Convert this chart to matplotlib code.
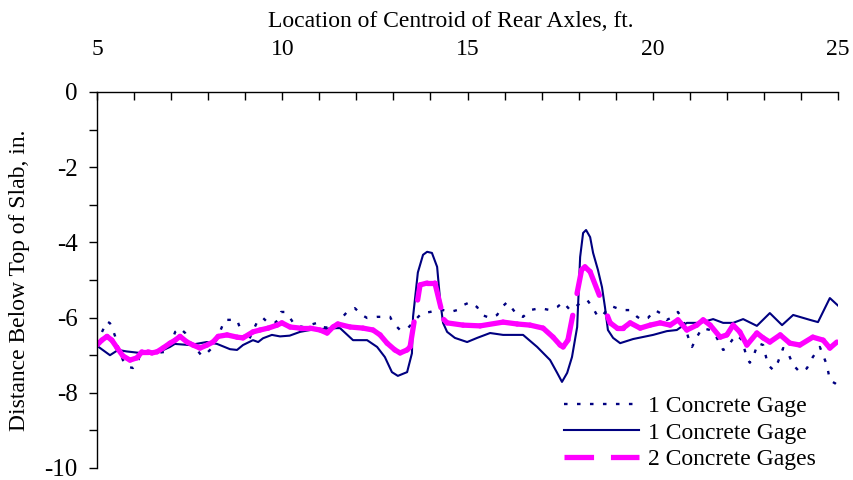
import matplotlib
matplotlib.use('Agg')
import matplotlib.pyplot as plt
from matplotlib.collections import LineCollection
from matplotlib.lines import Line2D
from matplotlib.ticker import MultipleLocator
import numpy as np

plt.rcParams['font.family'] = ['Liberation Serif', 'DejaVu Serif']
plt.rcParams['axes.unicode_minus'] = False

# 1 Concrete Gage (dotted)
x_dot = [5.0, 5.05, 5.16, 5.27, 5.35, 5.43, 5.49, 5.57, 5.7, 5.84, 5.97, 6.08, 6.16, 6.4, 6.62,
         6.92, 7.11, 7.24, 7.38, 7.51, 7.7, 7.83, 7.97, 8.13, 8.27, 8.37, 8.45, 8.78, 8.86, 8.94,
         9.08, 9.18, 9.35, 9.48, 9.62, 9.8, 9.89, 9.97, 10.07, 10.21, 10.34, 10.56, 10.94, 11.07,
         11.37, 11.5, 11.56, 11.75, 11.96, 12.15, 12.29, 12.56, 12.91, 12.99, 13.18, 13.39, 13.64,
         13.77, 13.99, 14.18, 14.34, 14.53, 14.72, 14.88, 15.07, 15.26, 15.39, 15.61, 15.8, 15.93,
         16.07, 16.2, 16.34, 16.5, 16.69, 16.96, 17.23, 17.42, 17.58, 17.77, 17.9, 18.04, 18.23,
         18.39, 18.52, 18.66, 18.79, 18.9, 19.17, 19.39, 19.58, 19.71, 19.87, 20.06, 20.2, 20.38,
         20.55, 20.68, 20.82, 20.95, 21.06, 21.19, 21.33, 21.55, 21.73, 21.9, 22.0, 22.14, 22.27,
         22.41, 22.54, 22.62, 22.71, 22.84, 22.98, 23.11, 23.25, 23.38, 23.52, 23.65, 23.79, 23.97,
         24.16, 24.32, 24.51, 24.7, 24.78, 24.92, 25.0]
y_dot = [-6.7, -6.55, -6.33, -6.1, -6.15, -6.33, -6.5, -6.8, -7.13, -7.31, -7.34, -7.25, -6.99, -6.95, -6.94,
         -6.9, -6.38, -6.28, -6.41, -6.65, -6.86, -7.02, -6.94, -6.78, -6.5, -6.25, -6.06, -6.06, -6.28, -6.5,
         -6.65, -6.41, -6.06, -6.01, -6.14, -6.14, -6.06, -5.85, -5.85, -6.01, -6.2, -6.25, -6.14, -6.25,
         -6.28, -6.17, -6.06, -5.85, -5.75, -5.93, -6.01, -5.98, -5.98, -6.14, -6.33, -6.28, -6.01,
         -5.88, -5.85, -5.8, -5.8, -5.85, -5.8, -5.67, -5.59, -5.72, -5.93, -6.01, -5.93, -5.72,
         -5.59, -5.75, -5.93, -5.98, -5.8, -5.75, -5.8, -5.72, -5.59, -5.8, -5.72, -5.62, -5.53,
         -5.75, -5.98, -5.93, -5.75, -5.7, -5.8, -5.8, -5.98, -6.06, -6.01, -5.8, -5.88, -6.06,
         -5.98, -5.85, -6.06, -6.5, -6.78, -6.52, -6.28, -6.33, -6.54, -6.86, -6.81, -6.6, -6.46,
         -6.6, -7.07, -7.2, -7.05, -6.68, -6.73, -7.26, -7.39, -7.18, -6.81, -6.94, -7.26, -7.45,
         -7.35, -7.05, -6.78, -7.26, -7.66, -7.75, -7.5]

# 1 Concrete Gage (solid)
x_sol = [5.0, 5.35, 5.57, 5.8, 6.16, 6.62, 6.97, 7.1, 7.5, 7.96, 8.24, 8.59, 8.78, 8.94, 9.21,
         9.35, 9.48, 9.72, 9.94, 10.2, 10.48, 10.75, 11.1, 11.48, 11.56, 11.91, 12.29, 12.56, 12.77,
         12.96, 13.12, 13.37, 13.5, 13.53, 13.66, 13.8, 13.91, 14.04, 14.18, 14.26, 14.34, 14.45,
         14.66, 14.99, 15.26, 15.61, 15.96, 16.5, 16.88, 17.23, 17.42, 17.55, 17.69, 17.82, 17.96,
         18.04, 18.12, 18.2, 18.31, 18.39, 18.52, 18.63, 18.71, 18.79, 18.93, 19.12, 19.47, 20.01,
         20.38, 20.65, 20.92, 21.28, 21.63, 21.9, 22.17, 22.44, 22.81, 23.16, 23.49, 23.79, 24.24,
         24.46, 24.78, 25.0]
y_sol = [-6.75, -7.0, -6.86, -6.9, -6.94, -6.94, -6.78, -6.7, -6.73, -6.65, -6.7, -6.84, -6.86, -6.73, -6.6,
         -6.65, -6.55, -6.46, -6.5, -6.48, -6.38, -6.33, -6.3, -6.28, -6.28, -6.6, -6.6, -6.78, -7.05,
         -7.45, -7.55, -7.45, -6.95, -5.98, -4.8, -4.33, -4.25, -4.28, -4.65, -5.53, -6.14, -6.38,
         -6.54, -6.65, -6.54, -6.41, -6.46, -6.46, -6.78, -7.13, -7.47, -7.71, -7.47, -7.05, -6.25,
         -4.39, -3.75, -3.67, -3.86, -4.28, -4.73, -5.19, -5.72, -6.33, -6.54, -6.68, -6.57, -6.46,
         -6.36, -6.33, -6.14, -6.14, -6.04, -6.14, -6.14, -6.04, -6.22, -5.88, -6.2, -5.93, -6.06,
         -6.12, -5.48, -5.68]

# 2 Concrete Gages (dashed)
x_two = [5.0, 5.13, 5.27, 5.4, 5.54, 5.7, 5.89, 6.08, 6.21, 6.38, 6.48, 6.62, 6.78, 6.97, 7.11,
         7.24, 7.43, 7.59, 7.78, 7.97, 8.13, 8.27, 8.51, 8.78, 8.94, 9.21, 9.4, 9.62, 9.86, 9.99,
         10.21, 10.48, 10.75, 11.02, 11.21, 11.37, 11.5, 11.83, 12.18, 12.45, 12.64, 12.83, 13.04,
         13.18, 13.37, 13.45, 13.72, 13.91, 14.12, 14.36, 14.45, 14.88, 15.34, 15.96, 16.34, 16.69,
         17.04, 17.31, 17.5, 17.58, 17.71, 18.08, 18.17, 18.31, 18.85, 19.04, 19.2, 19.39, 19.66,
         19.93, 20.2, 20.47, 20.68, 20.92, 21.19, 21.36, 21.55, 21.82, 22.0, 22.17, 22.35, 22.54,
         22.81, 22.98, 23.16, 23.44, 23.7, 23.97, 24.32, 24.6, 24.78, 24.97]
y_two = [-6.73, -6.6, -6.5, -6.6, -6.8, -7.02, -7.13, -7.07, -6.91, -6.91, -6.94, -6.91, -6.81, -6.68, -6.6,
         -6.5, -6.65, -6.73, -6.81, -6.73, -6.65, -6.5, -6.46, -6.52, -6.54, -6.38, -6.33, -6.28, -6.2, -6.14,
         -6.25, -6.28, -6.28, -6.33, -6.41, -6.25, -6.17, -6.25, -6.28, -6.33, -6.46, -6.68, -6.86,
         -6.94, -6.86, -6.78, -5.13, -5.08, -5.08, -6.05, -6.14, -6.2, -6.22, -6.12, -6.17, -6.2,
         -6.28, -6.52, -6.73, -6.78, -6.6, -4.73, -4.65, -4.78, -6.14, -6.28, -6.28, -6.14, -6.28,
         -6.2, -6.14, -6.2, -6.06, -6.33, -6.2, -6.06, -6.2, -6.52, -6.46, -6.2, -6.38, -6.73,
         -6.41, -6.54, -6.65, -6.46, -6.68, -6.73, -6.52, -6.6, -6.81, -6.65]

navy = '#000080'
magenta = '#FF00FF'
fs = 17

fig = plt.figure(figsize=(8.54, 4.8), dpi=100)
ax = fig.add_axes([97 / 854, 12 / 480, 741 / 854, 376 / 480])

ax.plot(x_dot, y_dot, color=navy, lw=1.7, dashes=(1.5, 4.0), label='1 Concrete Gage')
ax.plot(x_sol, y_sol, color=navy, lw=1.5, label='1 Concrete Gage')

# Excel-style dashes restart on every segment
pts = np.column_stack([x_two, y_two])
segs = np.stack([pts[:-1], pts[1:]], axis=1)
lc = LineCollection(segs, colors=magenta, linewidths=3.8,
                    linestyles=[(0, (4.8, 4.2))], capstyle='round')
ax.add_collection(lc)

ax.set_xlim(5, 25)
ax.set_ylim(-10, 0)

for s in ['bottom', 'right']:
    ax.spines[s].set_visible(False)
for s in ['top', 'left']:
    ax.spines[s].set_linewidth(1.0)

ax.xaxis.set_major_locator(MultipleLocator(5))
ax.xaxis.set_minor_locator(MultipleLocator(1))
ax.yaxis.set_major_locator(MultipleLocator(2))
ax.yaxis.set_minor_locator(MultipleLocator(1))
ax.xaxis.tick_top()
ax.xaxis.set_label_position('top')
ax.tick_params(axis='x', which='both', direction='in', length=6, width=1, top=True, bottom=False)
ax.tick_params(axis='x', which='major', pad=23, labelsize=fs)
ax.tick_params(axis='y', which='both', direction='out', length=6, width=1)
ax.tick_params(axis='y', which='major', pad=8, labelsize=18)

ax.set_xlabel('Location of Centroid of Rear Axles, ft.', fontsize=fs, labelpad=9)
ax.xaxis.label.set_x(0.478)
ax.set_ylabel('Distance Below Top of Slab, in.', fontsize=fs, labelpad=10)

handles = [Line2D([], [], color=navy, lw=1.7, dashes=(1.5, 4.0)),
           Line2D([], [], color=navy, lw=1.5),
           Line2D([], [], color=magenta, lw=3.8, dashes=(5.6, 3.2))]
labels = ['1 Concrete Gage', '1 Concrete Gage', '2 Concrete Gages']
ax.legend(handles, labels, loc='upper left', bbox_to_anchor=(0.630, 0.193), frameon=False,
          fontsize=fs, handlelength=3.2, handletextpad=0.35, borderpad=0, borderaxespad=0,
          labelspacing=0.22)

fig.savefig('out.png', dpi=100)
